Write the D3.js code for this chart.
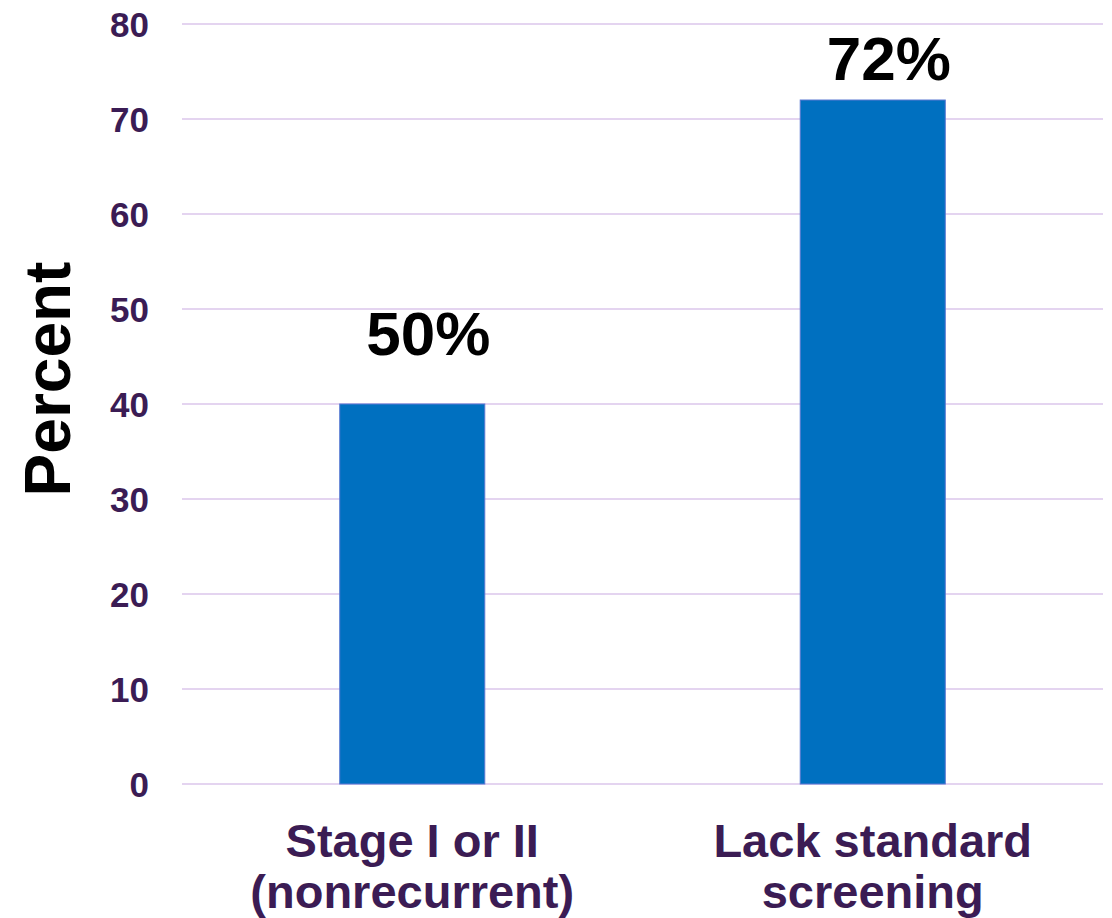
<!DOCTYPE html>
<html>
<head>
<meta charset="utf-8">
<script src="https://cdn.jsdelivr.net/npm/d3@7"></script>
<style>
  html, body { margin: 0; padding: 0; background: #fff; }
  svg { display: block; font-family: "Liberation Sans", Arial, sans-serif; }
</style>
</head>
<body>
<div id="chart"></div>
<script>
// Data
const categories = [["Stage I or II", "(nonrecurrent)"], ["Lack standard", "screening"]];
const values = [40, 72];
const valueLabels = ["50%", "72%"];
const labelAt = [45.2, 74.1];
const yTicks = [0, 10, 20, 30, 40, 50, 60, 70, 80];

const width = 1112;
const height = 918;
const margin = { top: 24, right: 9, bottom: 134, left: 182 };
const innerW = width - margin.left - margin.right;
const innerH = height - margin.top - margin.bottom;

const svg = d3
  .select("#chart")
  .append("svg")
  .attr("width", width)
  .attr("height", height);

const g = svg.append("g").attr("transform", `translate(${margin.left},${margin.top})`);

// Scales
const xScale = d3
  .scaleBand()
  .domain(d3.range(values.length))
  .range([0, innerW])
  .paddingInner(0.685)
  .paddingOuter(0.3425);

const yScale = d3.scaleLinear().domain([0, 80]).range([innerH, 0]);

// Gridlines
g.append("g")
  .selectAll("line")
  .data(yTicks)
  .enter()
  .append("line")
  .attr("x1", 0)
  .attr("x2", innerW)
  .attr("y1", d => yScale(d))
  .attr("y2", d => yScale(d))
  .style("stroke", "#e4d4f0")
  .style("stroke-width", "2px");

// Y axis labels
const yAxis = g.append("g").call(d3.axisLeft(yScale).tickValues(yTicks).tickSize(0).tickPadding(33));
yAxis.select(".domain").remove();
yAxis
  .selectAll("text")
  .style("font-family", "'Liberation Sans', Arial, sans-serif")
  .style("font-size", "35px")
  .style("font-weight", "bold")
  .style("fill", "#3b1c54")
  .attr("dy", "0.35em");

// Bars
g.selectAll(".bar")
  .data(values)
  .enter()
  .append("rect")
  .attr("class", "bar")
  .attr("x", (d, i) => xScale(i))
  .attr("y", d => yScale(d))
  .attr("width", xScale.bandwidth())
  .attr("height", d => innerH - yScale(d))
  .style("fill", "#0070c0")
  .style("stroke", "#5a78d2")
  .style("stroke-width", "1px");

// Value labels
g.selectAll(".value-label")
  .data(valueLabels)
  .enter()
  .append("text")
  .attr("class", "value-label")
  .attr("x", (d, i) => xScale(i) + xScale.bandwidth() / 2 + 16)
  .attr("y", (d, i) => yScale(labelAt[i]))
  .style("text-anchor", "middle")
  .style("font-size", "62px")
  .style("font-weight", "bold")
  .style("fill", "#000")
  .text(d => d);

// Category labels
const cat = g
  .selectAll(".cat-label")
  .data(categories)
  .enter()
  .append("text")
  .attr("class", "cat-label")
  .attr("x", (d, i) => xScale(i) + xScale.bandwidth() / 2)
  .attr("y", innerH + 73)
  .style("text-anchor", "middle")
  .style("font-size", "47px")
  .style("font-weight", "bold")
  .style("fill", "#3b1c54");

cat
  .selectAll("tspan")
  .data(d => d)
  .enter()
  .append("tspan")
  .attr("x", function () {
    return d3.select(this.parentNode).attr("x");
  })
  .attr("dy", (d, i) => (i === 0 ? 0 : 51))
  .text(d => d);

// Y axis title
svg
  .append("text")
  .attr("transform", "rotate(-90)")
  .attr("x", -379)
  .attr("y", 70)
  .style("text-anchor", "middle")
  .style("font-size", "64px")
  .style("font-weight", "bold")
  .style("fill", "#000")
  .text("Percent");
</script>
</body>
</html>
